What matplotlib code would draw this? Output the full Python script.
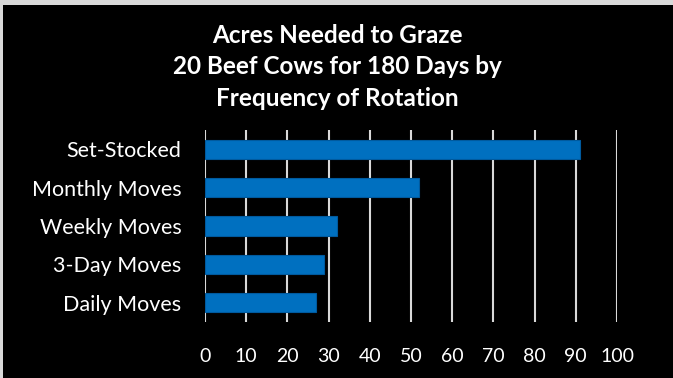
import matplotlib
matplotlib.use("Agg")
import matplotlib.pyplot as plt
from matplotlib.patches import Rectangle

categories = ["Set-Stocked", "Monthly Moves", "Weekly Moves", "3-Day Moves", "Daily Moves"]
acres = [91, 52, 32, 29, 27]
xticks = [0, 10, 20, 30, 40, 50, 60, 70, 80, 90, 100]
title = "Acres Needed to Graze\n20 Beef Cows for 180 Days by\nFrequency of Rotation"

W, H = 673, 378
fig = plt.figure(figsize=(W / 100, H / 100), dpi=100, facecolor="#D9D9D9")
fig.patches.append(Rectangle((3 / W, 0), 1 - 3 / W, 1 - 5 / H, transform=fig.transFigure,
                             facecolor="black", edgecolor="none", zorder=-5))

ax = fig.add_axes([205 / W, 1 - 322 / H, 412 / W, 192 / H])
ax.set_zorder(5)
ax.set_facecolor("black")
ax.patch.set_alpha(0)
ypos = list(range(len(categories)))[::-1]
ax.barh(ypos, acres, height=0.5, color="#0070C0", edgecolor="#005A9E", linewidth=0.8, zorder=3)
ax.set_xlim(0, 100)
ax.set_ylim(-0.5, 4.5)
ax.set_xticks(xticks)
ax.set_xticklabels([str(t) for t in xticks])
ax.set_yticks(ypos)
ax.set_yticklabels(categories)
ax.grid(axis="x", color="#D9D9D9", linewidth=1.5, zorder=1)
ax.set_axisbelow(True)
for s in ax.spines.values():
    s.set_visible(False)
ax.tick_params(axis="both", length=0, colors="white")
ax.tick_params(axis="x", pad=19, labelsize=14)
ax.tick_params(axis="y", pad=17, labelsize=15.5)
for lab in ax.get_xticklabels() + ax.get_yticklabels():
    lab.set_fontfamily("Lato")
    lab.set_color("white")

fig.text(337 / W, 1 - 67 / H, title, ha="center", va="center", color="white",
         fontsize=17.5, fontweight="bold", family="Lato", linespacing=1.45, zorder=6)

fig.savefig("out.png", dpi=100, facecolor=fig.get_facecolor())
